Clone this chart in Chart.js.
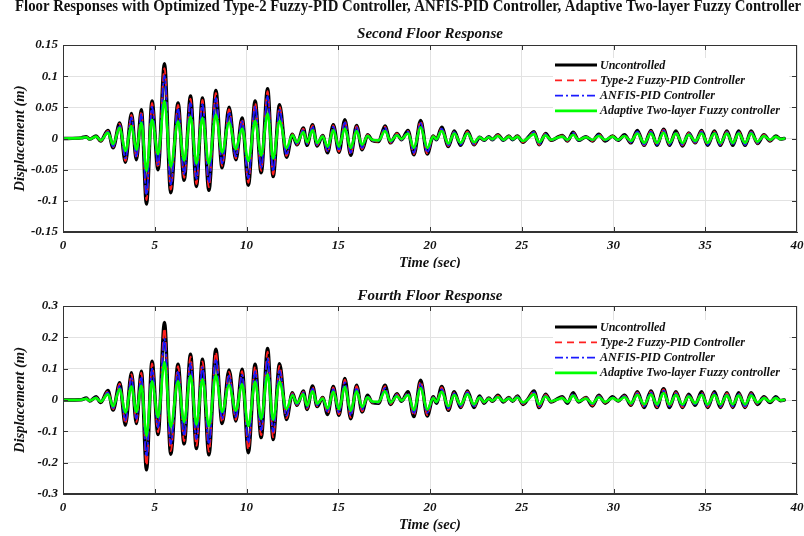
<!DOCTYPE html>
<html>
<head>
<meta charset="utf-8">
<script src="https://cdn.jsdelivr.net/npm/chart.js@4.4.0/dist/chart.umd.min.js"></script>
<style>
  html, body { margin: 0; padding: 0; background: #fff; }
  #page { position: relative; width: 804px; height: 536px; overflow: hidden; }
  canvas { display: block; }
</style>
</head>
<body>
<div id="page">
  <canvas id="second" width="804" height="268"></canvas>
  <canvas id="fourth" width="804" height="268"></canvas>
</div>
<script>
// time instants (sec) of the peaks / troughs
const time = [
  0, 1.0, 1.27, 1.45, 1.8, 2.05, 2.45, 2.73, 3.09, 3.4,
  3.73, 4.0, 4.27, 4.55, 4.85, 5.18, 5.53, 5.87, 6.27, 6.6,
  6.95, 7.27, 7.6, 7.95, 8.33, 8.67, 9.05, 9.42, 9.76, 10.1,
  10.47, 10.8, 11.15, 11.45, 11.8, 12.18, 12.5, 12.75, 13.1, 13.3,
  13.6, 13.85, 14.15, 14.42, 14.73, 15.04, 15.36, 15.68, 16.0, 16.3,
  16.6, 16.85, 17.2, 17.55, 17.85, 18.2, 18.45, 18.8, 19.12, 19.49,
  19.85, 20.18, 20.35, 20.64, 21.0, 21.32, 21.67, 22.04, 22.4, 22.7,
  22.95, 23.2, 23.4, 23.7, 24.0, 24.3, 24.5, 24.76, 25.07, 25.35,
  25.67, 25.95, 26.3, 26.6, 26.9, 27.2, 27.5, 27.8, 28.1, 28.5,
  28.85, 29.2, 29.55, 29.95, 30.25, 30.6, 30.95, 31.3, 31.67, 32.04,
  32.37, 32.73, 33.05, 33.4, 33.76, 34.1, 34.45, 34.8, 35.13, 35.5,
  35.82, 36.18, 36.5, 36.82, 37.17, 37.5, 37.85, 38.2, 38.53, 38.85,
  39.1, 39.3
];

const seriesNames = ['Uncontrolled', 'Type-2 Fuzzy-PID Controller', 'ANFIS-PID Controller', 'Adaptive Two-layer Fuzzy controller'];

// second floor displacement (m)
const uncontrolled2 = [
  0, 0.001, 0.003, -0.001, 0.004, -0.004, 0.013, -0.015, 0.025, -0.038,
  0.04, -0.034, 0.046, -0.105, 0.06, -0.05, 0.12, -0.087, 0.057, -0.067,
  0.068, -0.077, 0.065, -0.083, 0.077, -0.047, 0.05, -0.034, 0.033, -0.075,
  0.06, -0.055, 0.08, -0.061, 0.054, -0.03, 0.007, -0.01, 0.017, -0.011,
  0.022, -0.012, 0.005, -0.023, 0.022, -0.022, 0.03, -0.027, 0.021, -0.018,
  0.006, -0.003, -0.005, 0.02, -0.007, 0.008, -0.002, 0.013, -0.026, 0.029,
  -0.025, 0.004, -0.002, 0.018, -0.013, 0.012, -0.011, 0.012, -0.01, 0.002,
  -0.003, 0.003, -0.002, 0.006, -0.003, 0.004, -0.002, 0.004, -0.006, 0.002,
  0.011, -0.01, 0.008, -0.003, 0.001, 0.005, -0.004, 0.01, -0.003, 0.003,
  -0.004, 0.007, -0.004, 0.004, -0.003, 0.006, -0.007, 0.013, -0.011, 0.013,
  -0.011, 0.015, -0.011, 0.012, -0.012, 0.009, -0.007, 0.013, -0.011, 0.012,
  -0.011, 0.012, -0.011, 0.012, -0.011, 0.012, -0.008, 0.006, -0.004, 0.004,
  -0.001, 0
];
const type2Pid2 = [
  0, 0.001, 0.003, -0.001, 0.004, -0.004, 0.012, -0.014, 0.024, -0.036,
  0.038, -0.032, 0.044, -0.099, 0.057, -0.047, 0.113, -0.082, 0.054, -0.063,
  0.064, -0.073, 0.062, -0.078, 0.073, -0.044, 0.047, -0.032, 0.031, -0.071,
  0.057, -0.052, 0.076, -0.058, 0.051, -0.028, 0.007, -0.01, 0.016, -0.01,
  0.021, -0.011, 0.005, -0.022, 0.021, -0.021, 0.028, -0.026, 0.02, -0.017,
  0.006, -0.003, -0.005, 0.019, -0.007, 0.008, -0.002, 0.012, -0.025, 0.028,
  -0.024, 0.004, -0.002, 0.017, -0.012, 0.011, -0.01, 0.011, -0.01, 0.002,
  -0.003, 0.003, -0.002, 0.006, -0.003, 0.004, -0.002, 0.004, -0.006, 0.002,
  0.01, -0.01, 0.008, -0.003, 0.001, 0.005, -0.004, 0.01, -0.003, 0.003,
  -0.004, 0.007, -0.004, 0.004, -0.003, 0.006, -0.007, 0.012, -0.011, 0.012,
  -0.011, 0.014, -0.01, 0.011, -0.011, 0.009, -0.007, 0.012, -0.01, 0.011,
  -0.01, 0.011, -0.01, 0.011, -0.01, 0.011, -0.008, 0.006, -0.004, 0.004,
  -0.001, 0
];
const anfisPid2 = [
  0, 0.001, 0.002, -0.001, 0.003, -0.003, 0.011, -0.013, 0.021, -0.032,
  0.034, -0.029, 0.039, -0.09, 0.051, -0.042, 0.101, -0.074, 0.048, -0.057,
  0.058, -0.065, 0.055, -0.07, 0.065, -0.04, 0.042, -0.029, 0.028, -0.064,
  0.051, -0.047, 0.068, -0.052, 0.046, -0.026, 0.006, -0.009, 0.014, -0.009,
  0.019, -0.01, 0.004, -0.02, 0.019, -0.019, 0.026, -0.023, 0.018, -0.015,
  0.005, -0.003, -0.004, 0.017, -0.006, 0.007, -0.002, 0.011, -0.023, 0.025,
  -0.022, 0.003, -0.002, 0.016, -0.011, 0.01, -0.01, 0.01, -0.009, 0.002,
  -0.003, 0.003, -0.002, 0.005, -0.003, 0.003, -0.002, 0.003, -0.005, 0.002,
  0.01, -0.009, 0.007, -0.003, 0.001, 0.004, -0.003, 0.009, -0.003, 0.003,
  -0.003, 0.006, -0.003, 0.003, -0.003, 0.005, -0.006, 0.011, -0.01, 0.011,
  -0.01, 0.013, -0.01, 0.01, -0.01, 0.008, -0.006, 0.011, -0.01, 0.01,
  -0.01, 0.01, -0.01, 0.01, -0.01, 0.01, -0.007, 0.005, -0.003, 0.003,
  -0.001, 0
];
const adaptiveFuzzy2 = [
  0, 0.001, 0.002, -0.001, 0.003, -0.003, 0.009, -0.009, 0.017, -0.02,
  0.02, -0.018, 0.025, -0.052, 0.03, -0.025, 0.06, -0.045, 0.027, -0.035,
  0.035, -0.04, 0.033, -0.04, 0.038, -0.022, 0.025, -0.017, 0.016, -0.036,
  0.028, -0.027, 0.04, -0.032, 0.028, -0.015, 0.005, -0.006, 0.01, -0.006,
  0.013, -0.007, 0.003, -0.013, 0.013, -0.013, 0.016, -0.015, 0.012, -0.01,
  0.004, -0.002, -0.003, 0.012, -0.004, 0.005, -0.001, 0.008, -0.015, 0.018,
  -0.015, 0.003, -0.001, 0.012, -0.008, 0.008, -0.007, 0.008, -0.006, 0.002,
  -0.002, 0.002, -0.001, 0.004, -0.002, 0.003, -0.001, 0.003, -0.004, 0.001,
  0.007, -0.006, 0.005, -0.002, 0.001, 0.003, -0.002, 0.006, -0.002, 0.002,
  -0.002, 0.004, -0.002, 0.003, -0.002, 0.004, -0.004, 0.008, -0.007, 0.008,
  -0.007, 0.009, -0.007, 0.008, -0.007, 0.006, -0.004, 0.008, -0.007, 0.008,
  -0.007, 0.008, -0.007, 0.008, -0.007, 0.008, -0.005, 0.004, -0.002, 0.003,
  -0.001, 0
];

// fourth floor displacement (m)
const uncontrolled4 = [
  0, 0.001, 0.006, -0.003, 0.01, -0.008, 0.03, -0.032, 0.055, -0.08,
  0.087, -0.075, 0.092, -0.223, 0.124, -0.11, 0.247, -0.173, 0.114, -0.14,
  0.146, -0.155, 0.13, -0.175, 0.162, -0.075, 0.096, -0.067, 0.098, -0.168,
  0.114, -0.12, 0.164, -0.126, 0.116, -0.062, 0.023, -0.017, 0.029, -0.03,
  0.045, -0.021, 0.008, -0.046, 0.043, -0.049, 0.069, -0.06, 0.047, -0.038,
  0.015, -0.008, -0.01, 0.047, -0.014, 0.02, -0.004, 0.026, -0.053, 0.063,
  -0.051, 0.01, -0.01, 0.043, -0.033, 0.026, -0.024, 0.029, -0.024, 0.013,
  -0.01, 0.006, -0.004, 0.015, -0.006, 0.008, -0.004, 0.013, -0.014, 0.004,
  0.029, -0.024, 0.018, -0.006, 0.002, 0.01, -0.01, 0.023, -0.006, 0.008,
  -0.019, 0.015, -0.01, 0.01, -0.003, 0.015, -0.017, 0.026, -0.024, 0.029,
  -0.024, 0.036, -0.024, 0.026, -0.024, 0.018, -0.017, 0.026, -0.024, 0.026,
  -0.024, 0.023, -0.024, 0.023, -0.024, 0.023, -0.014, 0.01, -0.008, 0.01,
  -0.002, 0
];
const type2Pid4 = [
  0, 0.001, 0.006, -0.003, 0.009, -0.007, 0.028, -0.03, 0.052, -0.075,
  0.082, -0.07, 0.087, -0.208, 0.117, -0.103, 0.228, -0.163, 0.108, -0.132,
  0.138, -0.146, 0.123, -0.165, 0.152, -0.071, 0.09, -0.063, 0.092, -0.158,
  0.107, -0.113, 0.154, -0.119, 0.109, -0.058, 0.022, -0.016, 0.027, -0.028,
  0.042, -0.02, 0.008, -0.043, 0.04, -0.046, 0.065, -0.056, 0.044, -0.036,
  0.014, -0.008, -0.009, 0.044, -0.013, 0.019, -0.004, 0.024, -0.05, 0.059,
  -0.048, 0.009, -0.009, 0.04, -0.031, 0.024, -0.023, 0.027, -0.023, 0.012,
  -0.009, 0.006, -0.004, 0.014, -0.006, 0.008, -0.004, 0.012, -0.013, 0.004,
  0.027, -0.023, 0.017, -0.006, 0.002, 0.009, -0.009, 0.022, -0.006, 0.008,
  -0.018, 0.014, -0.009, 0.009, -0.003, 0.014, -0.016, 0.024, -0.023, 0.027,
  -0.023, 0.034, -0.023, 0.024, -0.023, 0.017, -0.016, 0.024, -0.023, 0.024,
  -0.023, 0.022, -0.023, 0.022, -0.023, 0.022, -0.013, 0.009, -0.007, 0.009,
  -0.002, 0
];
const anfisPid4 = [
  0, 0.001, 0.005, -0.002, 0.008, -0.006, 0.024, -0.026, 0.045, -0.065,
  0.07, -0.06, 0.074, -0.18, 0.1, -0.088, 0.195, -0.14, 0.092, -0.113,
  0.118, -0.125, 0.105, -0.14, 0.13, -0.06, 0.078, -0.054, 0.08, -0.135,
  0.092, -0.097, 0.132, -0.102, 0.094, -0.05, 0.019, -0.014, 0.024, -0.024,
  0.036, -0.017, 0.007, -0.037, 0.035, -0.04, 0.056, -0.048, 0.038, -0.031,
  0.012, -0.007, -0.008, 0.038, -0.011, 0.016, -0.003, 0.021, -0.043, 0.051,
  -0.041, 0.008, -0.008, 0.035, -0.027, 0.021, -0.02, 0.024, -0.02, 0.011,
  -0.008, 0.005, -0.003, 0.012, -0.005, 0.007, -0.003, 0.011, -0.011, 0.003,
  0.024, -0.02, 0.015, -0.005, 0.002, 0.008, -0.008, 0.019, -0.005, 0.007,
  -0.015, 0.012, -0.008, 0.008, -0.002, 0.012, -0.014, 0.021, -0.02, 0.024,
  -0.02, 0.03, -0.02, 0.021, -0.02, 0.015, -0.014, 0.021, -0.02, 0.021,
  -0.02, 0.019, -0.02, 0.019, -0.02, 0.019, -0.011, 0.008, -0.006, 0.008,
  -0.002, 0
];
const adaptiveFuzzy4 = [
  0, 0.001, 0.004, -0.002, 0.006, -0.005, 0.018, -0.02, 0.035, -0.04,
  0.043, -0.038, 0.045, -0.115, 0.06, -0.055, 0.12, -0.085, 0.06, -0.07,
  0.077, -0.078, 0.066, -0.083, 0.079, -0.038, 0.047, -0.034, 0.05, -0.083,
  0.058, -0.06, 0.082, -0.063, 0.057, -0.028, 0.015, -0.01, 0.018, -0.018,
  0.028, -0.012, 0.005, -0.027, 0.026, -0.029, 0.042, -0.035, 0.028, -0.022,
  0.009, -0.005, -0.006, 0.028, -0.008, 0.012, -0.002, 0.016, -0.032, 0.038,
  -0.03, 0.006, -0.006, 0.026, -0.02, 0.016, -0.014, 0.018, -0.014, 0.008,
  -0.006, 0.004, -0.002, 0.009, -0.004, 0.005, -0.002, 0.008, -0.008, 0.002,
  0.018, -0.014, 0.011, -0.004, 0.001, 0.006, -0.006, 0.014, -0.004, 0.005,
  -0.011, 0.009, -0.006, 0.006, -0.002, 0.009, -0.01, 0.016, -0.014, 0.017,
  -0.014, 0.022, -0.014, 0.016, -0.014, 0.011, -0.01, 0.016, -0.014, 0.016,
  -0.014, 0.014, -0.014, 0.014, -0.014, 0.014, -0.008, 0.006, -0.005, 0.006,
  -0.001, 0
];

const xTicks = [0, 5, 10, 15, 20, 25, 30, 35, 40];
const yTicks2 = [-0.15, -0.1, -0.05, 0, 0.05, 0.1, 0.15];
const yTicks4 = [-0.3, -0.2, -0.1, 0, 0.1, 0.2, 0.3];

const serif = "'Liberation Serif', 'Times New Roman', serif";
const lineStyles = [
  { color: '#000000', width: 3.5, dash: [] },
  { color: '#ff2020', width: 1.8, dash: [7, 5] },
  { color: '#1a1aff', width: 1.8, dash: [8, 3, 2, 3] },
  { color: '#00ff00', width: 2.6, dash: [] }
];

// titles, legend, box and inward ticks (MATLAB look)
const decor = {
  id: 'floorDecor',
  afterDraw(chart, args, opts) {
    const { ctx, chartArea: a } = chart;
    const xs = chart.scales.x, ys = chart.scales.y;
    ctx.save();

    ctx.strokeStyle = '#333';
    ctx.lineWidth = 1;
    xTicks.slice(1, -1).forEach(v => {
      const px = Math.round(xs.getPixelForValue(v)) + 0.5;
      ctx.beginPath();
      ctx.moveTo(px, a.bottom); ctx.lineTo(px, a.bottom - 5);
      ctx.moveTo(px, a.top); ctx.lineTo(px, a.top + 5);
      ctx.stroke();
    });
    opts.yTicks.slice(1, -1).forEach(v => {
      const py = Math.round(ys.getPixelForValue(v)) + 0.5;
      ctx.beginPath();
      ctx.moveTo(a.left, py); ctx.lineTo(a.left + 5, py);
      ctx.moveTo(a.right, py); ctx.lineTo(a.right - 5, py);
      ctx.stroke();
    });
    ctx.strokeRect(Math.round(a.left) + 0.5, Math.round(a.top) + 0.5,
      Math.round(a.right - a.left) - 1, Math.round(a.bottom - a.top) - 1);

    // legend
    ctx.fillStyle = '#fff';
    ctx.fillRect(553, opts.legendTop, 236, 60);
    ctx.font = 'italic bold 12px ' + serif;
    ctx.textBaseline = 'middle';
    ctx.textAlign = 'left';
    seriesNames.forEach((name, i) => {
      const y = opts.legendTop + 7 + i * 15.3;
      const s = lineStyles[i];
      ctx.beginPath();
      ctx.setLineDash(s.dash);
      ctx.strokeStyle = s.color;
      ctx.lineWidth = Math.min(s.width, 3);
      ctx.moveTo(555, y); ctx.lineTo(597, y);
      ctx.stroke();
      ctx.setLineDash([]);
      ctx.fillStyle = '#111';
      ctx.fillText(name, 600, y + 0.5);
    });

    // texts
    ctx.fillStyle = '#111';
    ctx.textAlign = 'center';
    ctx.textBaseline = 'alphabetic';
    if (opts.mainTitle) {
      ctx.font = 'bold 17px ' + serif;
      ctx.fillText(opts.mainTitle, 408, 11, 786);
    }
    const cx = (a.left + a.right) / 2;
    ctx.font = 'italic bold 15px ' + serif;
    ctx.fillText(opts.title, cx, opts.titleY);
    ctx.font = 'italic bold 14.5px ' + serif;
    ctx.fillText('Time (sec)', cx, opts.xTitleY);

    ctx.translate(20, (a.top + a.bottom) / 2);
    ctx.rotate(-Math.PI / 2);
    ctx.textBaseline = 'middle';
    ctx.fillText('Displacement (m)', 0, 0);
    ctx.restore();
  }
};

const makeChart = (canvasId, values, yTicks, deco) => {
  const points = vals => time.map((t, i) => ({ x: t, y: vals[i] }));
  const tickFont = { family: serif, size: 13, weight: 'bold', style: 'italic' };
  return new Chart(document.getElementById(canvasId), {
    type: 'line',
    data: {
      datasets: values.map((vals, i) => ({
        label: seriesNames[i],
        data: points(vals),
        borderColor: lineStyles[i].color,
        borderWidth: lineStyles[i].width,
        borderDash: lineStyles[i].dash,
        order: 4 - i
      }))
    },
    options: {
      responsive: false,
      animation: false,
      devicePixelRatio: 1,
      elements: {
        point: { radius: 0 },
        line: { cubicInterpolationMode: 'monotone', borderCapStyle: 'round', borderJoinStyle: 'round' }
      },
      layout: { padding: { left: 0, right: 7, top: deco.plotTop, bottom: 0 } },
      scales: {
        x: {
          type: 'linear',
          min: 0,
          max: 40,
          afterBuildTicks: s => { s.ticks = xTicks.map(v => ({ value: v })); },
          afterFit: s => { s.height = deco.xAxisHeight; s.paddingLeft = 0; s.paddingRight = 0; },
          grid: { color: '#e2e2e2', drawTicks: false },
          border: { color: '#333' },
          ticks: { padding: 6, color: '#111', font: tickFont, maxRotation: 0, autoSkip: false, callback: v => String(v) }
        },
        y: {
          min: yTicks[0],
          max: yTicks[yTicks.length - 1],
          afterBuildTicks: s => { s.ticks = yTicks.map(v => ({ value: v })); },
          afterFit: s => { s.width = 63; },
          grid: { color: '#e2e2e2', drawTicks: false },
          border: { color: '#333' },
          ticks: { padding: 5, color: '#111', font: tickFont, callback: v => String(v) }
        }
      },
      plugins: {
        legend: { display: false },
        tooltip: { enabled: false },
        floorDecor: deco
      }
    },
    plugins: [decor]
  });
};

makeChart('second', [uncontrolled2, type2Pid2, anfisPid2, adaptiveFuzzy2], yTicks2, {
  plotTop: 45, xAxisHeight: 36, yTicks: yTicks2, legendTop: 58,
  mainTitle: 'Floor Responses with Optimized Type-2 Fuzzy-PID Controller, ANFIS-PID Controller, Adaptive Two-layer Fuzzy Controller',
  title: 'Second Floor Response', titleY: 38, xTitleY: 267
});
makeChart('fourth', [uncontrolled4, type2Pid4, anfisPid4, adaptiveFuzzy4], yTicks4, {
  plotTop: 38, xAxisHeight: 42, yTicks: yTicks4, legendTop: 52,
  title: 'Fourth Floor Response', titleY: 32, xTitleY: 261
});
</script>
</body>
</html>
